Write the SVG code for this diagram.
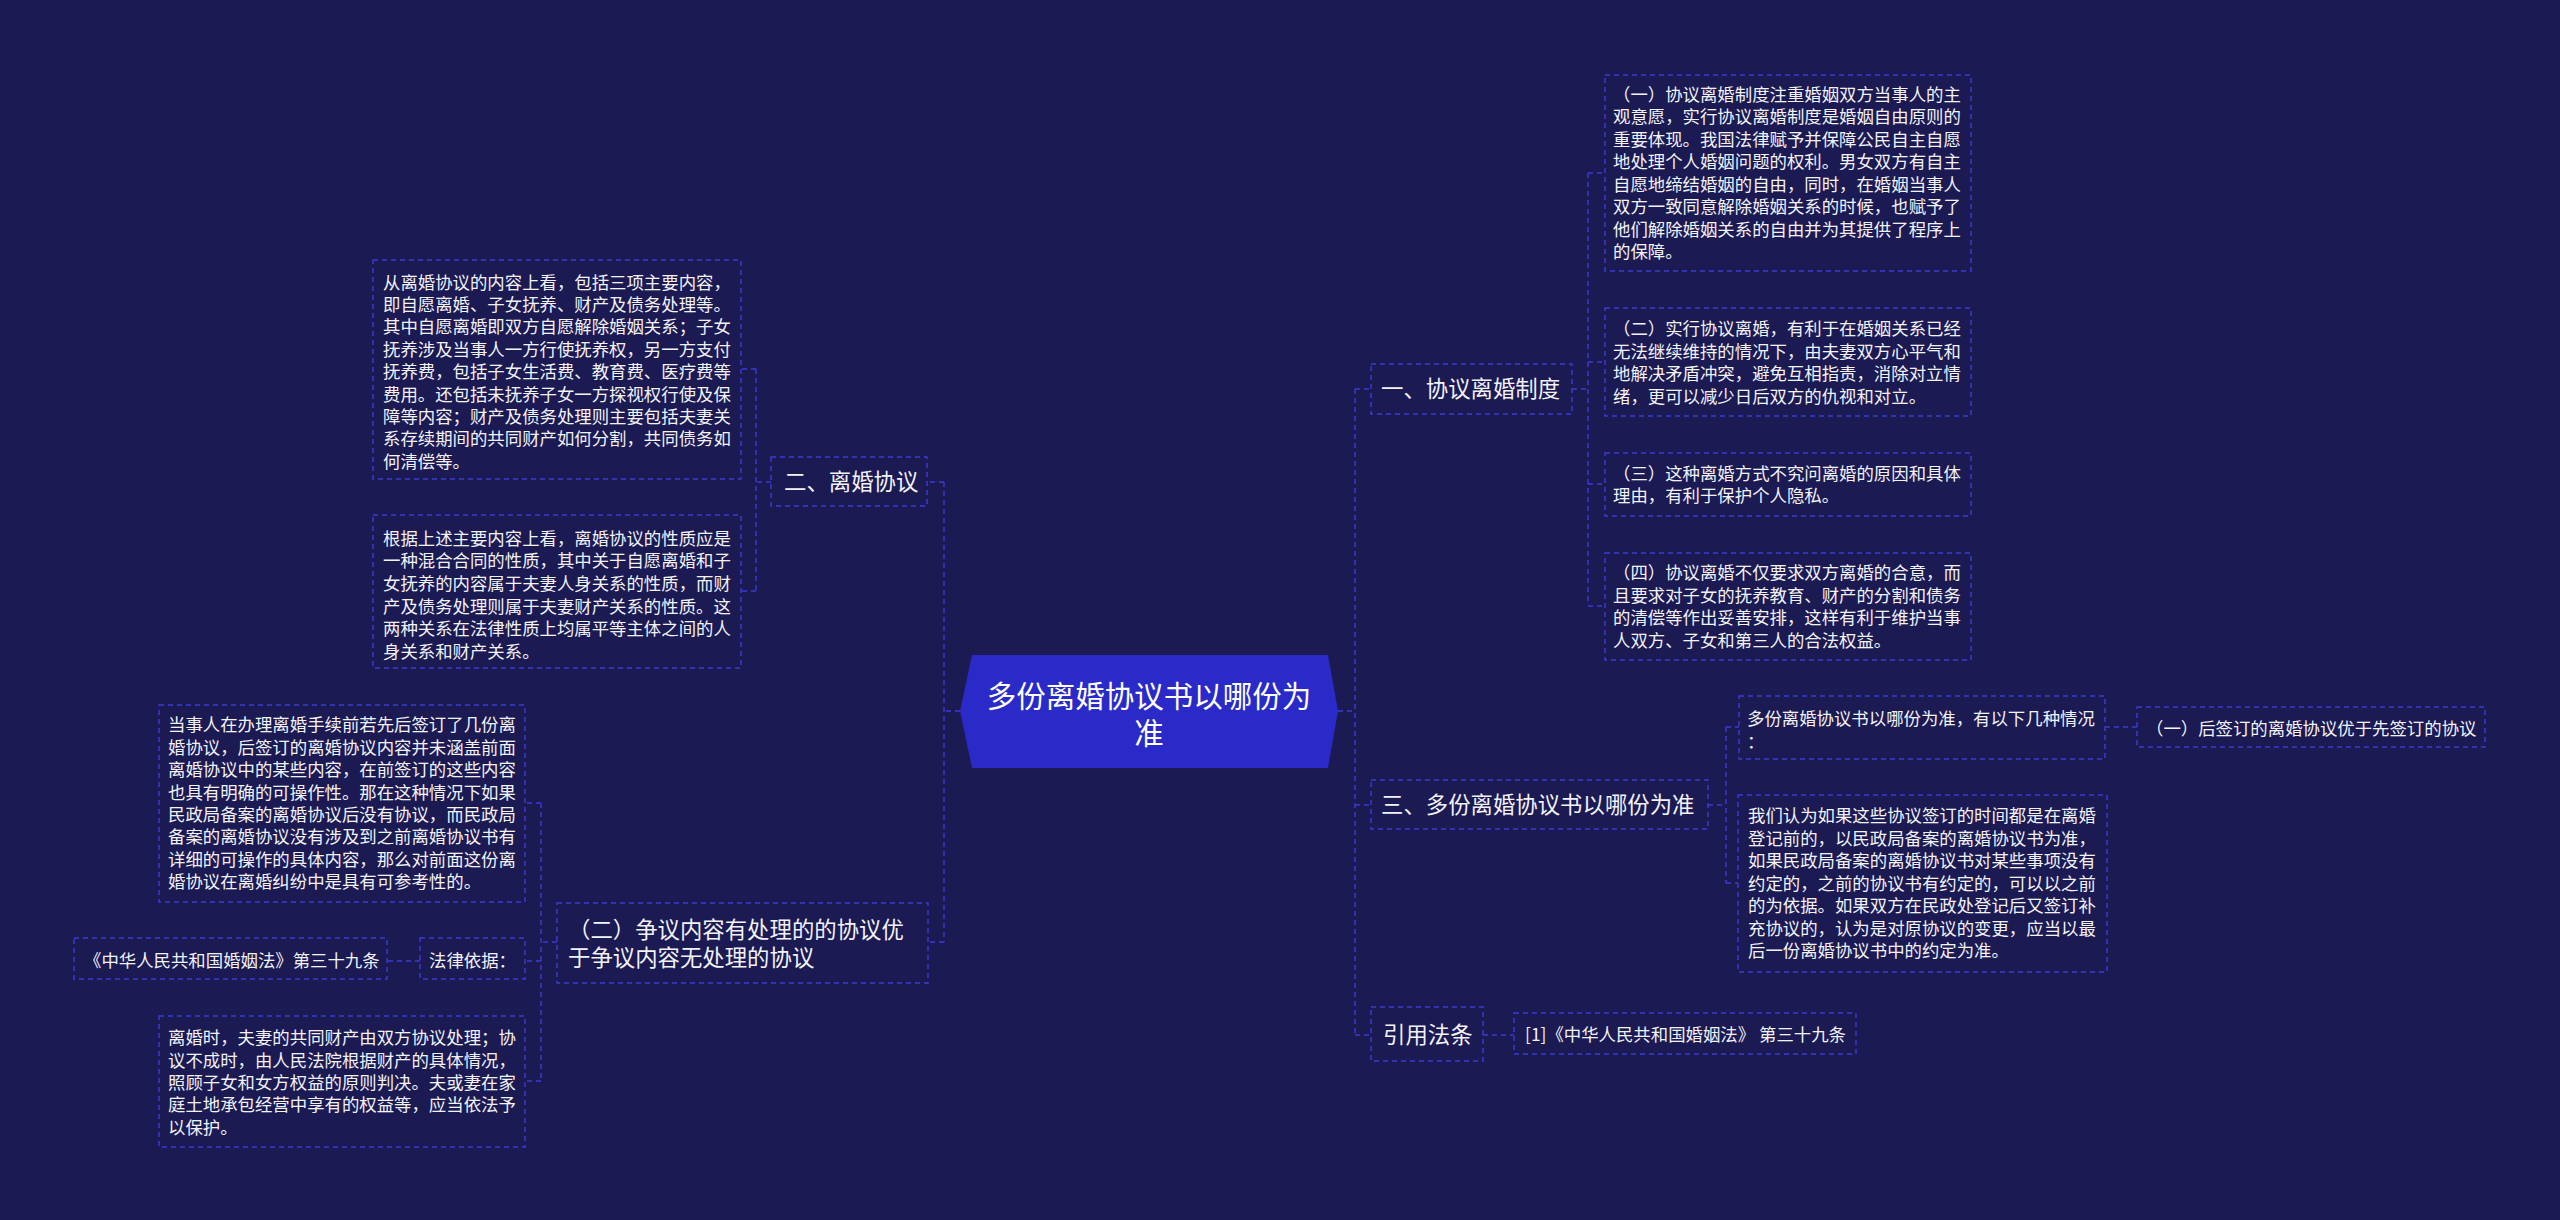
<svg xmlns="http://www.w3.org/2000/svg" width="2560" height="1220" viewBox="0 0 2560 1220">
<style>
.box{fill:none;stroke:#3b3bd6;stroke-width:1.4;stroke-dasharray:5 4}
.link{fill:none;stroke:#3b3bd6;stroke-width:1.4;stroke-dasharray:5 4}
text{font-family:"Noto Sans CJK SC","Noto Sans",sans-serif;fill:#f2f2f8}
.s{font-size:17.4px}
.m{font-size:22.4px}
.c{font-size:29.5px;fill:#ffffff}
</style>
<rect x="0" y="0" width="2560" height="1220" fill="#1b1a52"/>
<g id="connectors">
<path class="link" d="M960,711 H944 M944,482 V942 M944,482 H927 M944,942 H928"/>
<path class="link" d="M771,482 H756 M756,369 V591 M756,369 H741 M756,591 H741"/>
<path class="link" d="M557,942 H541 M541,803 V1081 M541,803 H525 M541,961 H525 M541,1081 H525 M420,961 H387"/>
<path class="link" d="M1338,711 H1355 M1355,389 V1035 M1355,389 H1371 M1355,805 H1371 M1355,1035 H1371"/>
<path class="link" d="M1572,389 H1588 M1588,173 V605 M1588,173 H1605 M1588,362 H1605 M1588,484 H1605 M1588,606 H1605"/>
<path class="link" d="M1708,805 H1726 M1726,727 V883 M1726,727 H1739 M1726,883 H1738 M2105,727 H2137 M1483,1035 H1514"/>
</g>
<g id="center">
<polygon points="960,711 972,655 1328,655 1338,711 1328,768 972,768" fill="#2a2ac8"/>
<text class="c" text-anchor="middle" x="1149" y="707">多份离婚协议书以哪份为</text>
<text class="c" text-anchor="middle" x="1149" y="744">准</text>
</g>
<g id="n-yi">
<rect class="box" x="1371" y="364" width="201" height="50"/>
<text class="m" x="1381" y="397">一、协议离婚制度</text>
</g>
<g id="n-yi-1">
<rect class="box" x="1605" y="75" width="366" height="196"/>
<text class="s" x="1613" y="100.5">（一）协议离婚制度注重婚姻双方当事人的主<tspan x="1613" dy="22.5">观意愿，实行协议离婚制度是婚姻自由原则的</tspan><tspan x="1613" dy="22.5">重要体现。我国法律赋予并保障公民自主自愿</tspan><tspan x="1613" dy="22.5">地处理个人婚姻问题的权利。男女双方有自主</tspan><tspan x="1613" dy="22.5">自愿地缔结婚姻的自由，同时，在婚姻当事人</tspan><tspan x="1613" dy="22.5">双方一致同意解除婚姻关系的时候，也赋予了</tspan><tspan x="1613" dy="22.5">他们解除婚姻关系的自由并为其提供了程序上</tspan><tspan x="1613" dy="22.5">的保障。</tspan></text>
</g>
<g id="n-yi-2">
<rect class="box" x="1605" y="308" width="366" height="108"/>
<text class="s" x="1613" y="335">（二）实行协议离婚，有利于在婚姻关系已经<tspan x="1613" dy="22.5">无法继续维持的情况下，由夫妻双方心平气和</tspan><tspan x="1613" dy="22.5">地解决矛盾冲突，避免互相指责，消除对立情</tspan><tspan x="1613" dy="22.5">绪，更可以减少日后双方的仇视和对立。</tspan></text>
</g>
<g id="n-yi-3">
<rect class="box" x="1605" y="453" width="366" height="63"/>
<text class="s" x="1613" y="479.5">（三）这种离婚方式不究问离婚的原因和具体<tspan x="1613" dy="22.5">理由，有利于保护个人隐私。</tspan></text>
</g>
<g id="n-yi-4">
<rect class="box" x="1605" y="553" width="366" height="107"/>
<text class="s" x="1613" y="579">（四）协议离婚不仅要求双方离婚的合意，而<tspan x="1613" dy="22.5">且要求对子女的抚养教育、财产的分割和债务</tspan><tspan x="1613" dy="22.5">的清偿等作出妥善安排，这样有利于维护当事</tspan><tspan x="1613" dy="22.5">人双方、子女和第三人的合法权益。</tspan></text>
</g>
<g id="n-san">
<rect class="box" x="1371" y="780" width="337" height="49"/>
<text class="m" x="1381" y="813">三、多份离婚协议书以哪份为准</text>
</g>
<g id="n-san-a">
<rect class="box" x="1739" y="696" width="366" height="63"/>
<text class="s" x="1747" y="725.3">多份离婚协议书以哪份为准，有以下几种情况<tspan x="1747" dy="23">：</tspan></text>
</g>
<g id="n-san-a-1">
<rect class="box" x="2137" y="707" width="348" height="40"/>
<text class="s" x="2146" y="735.3">（一）后签订的离婚协议优于先签订的协议</text>
</g>
<g id="n-san-b">
<rect class="box" x="1738" y="795" width="369" height="177"/>
<text class="s" x="1748" y="822.3">我们认为如果这些协议签订的时间都是在离婚<tspan x="1748" dy="22.5">登记前的，以民政局备案的离婚协议书为准，</tspan><tspan x="1748" dy="22.5">如果民政局备案的离婚协议书对某些事项没有</tspan><tspan x="1748" dy="22.5">约定的，之前的协议书有约定的，可以以之前</tspan><tspan x="1748" dy="22.5">的为依据。如果双方在民政处登记后又签订补</tspan><tspan x="1748" dy="22.5">充协议的，认为是对原协议的变更，应当以最</tspan><tspan x="1748" dy="22.5">后一份离婚协议书中的约定为准。</tspan></text>
</g>
<g id="n-yinyong">
<rect class="box" x="1371" y="1007" width="112" height="54"/>
<text class="m" x="1383" y="1043">引用法条</text>
</g>
<g id="n-yinyong-1">
<rect class="box" x="1514" y="1013" width="342" height="41"/>
<text class="s" x="1525" y="1041.3">[1]《中华人民共和国婚姻法》 第三十九条</text>
</g>
<g id="n-er">
<rect class="box" x="771" y="457" width="156" height="49"/>
<text class="m" x="784" y="490">二、离婚协议</text>
</g>
<g id="n-er-1">
<rect class="box" x="373" y="260" width="368" height="219"/>
<text class="s" x="383" y="288.5">从离婚协议的内容上看，包括三项主要内容，<tspan x="383" dy="22.4">即自愿离婚、子女抚养、财产及债务处理等。</tspan><tspan x="383" dy="22.4">其中自愿离婚即双方自愿解除婚姻关系；子女</tspan><tspan x="383" dy="22.4">抚养涉及当事人一方行使抚养权，另一方支付</tspan><tspan x="383" dy="22.4">抚养费，包括子女生活费、教育费、医疗费等</tspan><tspan x="383" dy="22.4">费用。还包括未抚养子女一方探视权行使及保</tspan><tspan x="383" dy="22.4">障等内容；财产及债务处理则主要包括夫妻关</tspan><tspan x="383" dy="22.4">系存续期间的共同财产如何分割，共同债务如</tspan><tspan x="383" dy="22.4">何清偿等。</tspan></text>
</g>
<g id="n-er-2">
<rect class="box" x="373" y="515" width="368" height="153"/>
<text class="s" x="383" y="544.8">根据上述主要内容上看，离婚协议的性质应是<tspan x="383" dy="22.6">一种混合合同的性质，其中关于自愿离婚和子</tspan><tspan x="383" dy="22.6">女抚养的内容属于夫妻人身关系的性质，而财</tspan><tspan x="383" dy="22.6">产及债务处理则属于夫妻财产关系的性质。这</tspan><tspan x="383" dy="22.6">两种关系在法律性质上均属平等主体之间的人</tspan><tspan x="383" dy="22.6">身关系和财产关系。</tspan></text>
</g>
<g id="n-er-b">
<rect class="box" x="557" y="903" width="371" height="80"/>
<text class="m" x="568" y="938">（二）争议内容有处理的的协议优<tspan x="568" dy="28">于争议内容无处理的协议</tspan></text>
</g>
<g id="n-er-b-1">
<rect class="box" x="159" y="705" width="366" height="197"/>
<text class="s" x="168" y="731.3">当事人在办理离婚手续前若先后签订了几份离<tspan x="168" dy="22.4">婚协议，后签订的离婚协议内容并未涵盖前面</tspan><tspan x="168" dy="22.4">离婚协议中的某些内容，在前签订的这些内容</tspan><tspan x="168" dy="22.4">也具有明确的可操作性。那在这种情况下如果</tspan><tspan x="168" dy="22.4">民政局备案的离婚协议后没有协议，而民政局</tspan><tspan x="168" dy="22.4">备案的离婚协议没有涉及到之前离婚协议书有</tspan><tspan x="168" dy="22.4">详细的可操作的具体内容，那么对前面这份离</tspan><tspan x="168" dy="22.4">婚协议在离婚纠纷中是具有可参考性的。</tspan></text>
</g>
<g id="n-er-b-2">
<rect class="box" x="420" y="938" width="105" height="41"/>
<text class="s" x="429" y="967.3">法律依据：</text>
</g>
<g id="n-er-b-2-1">
<rect class="box" x="74" y="938" width="313" height="41"/>
<text class="s" x="84" y="967.3">《中华人民共和国婚姻法》第三十九条</text>
</g>
<g id="n-er-b-3">
<rect class="box" x="159" y="1016" width="366" height="131"/>
<text class="s" x="168" y="1044.3">离婚时，夫妻的共同财产由双方协议处理；协<tspan x="168" dy="22.3">议不成时，由人民法院根据财产的具体情况，</tspan><tspan x="168" dy="22.3">照顾子女和女方权益的原则判决。夫或妻在家</tspan><tspan x="168" dy="22.3">庭土地承包经营中享有的权益等，应当依法予</tspan><tspan x="168" dy="22.3">以保护。</tspan></text>
</g>
</svg>
